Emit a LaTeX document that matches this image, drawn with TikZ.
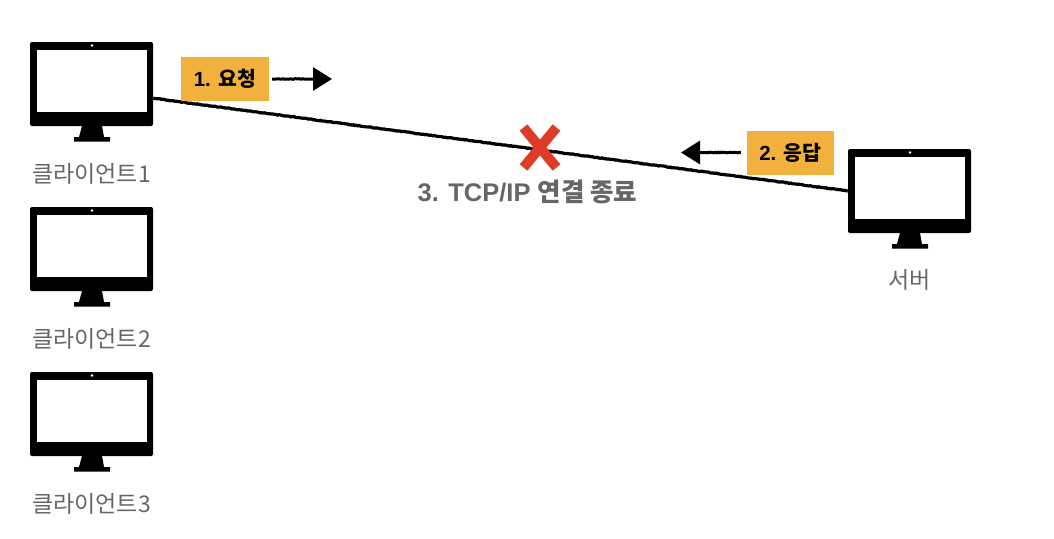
\documentclass[tikz,border=0pt]{standalone}
\usepackage{fontspec}
\setmainfont{Liberation Sans}
\newfontfamily\krfont{Noto Sans CJK KR}
\usetikzlibrary{shapes.misc,arrows.meta,positioning,decorations.pathmorphing}
\definecolor{tagorange}{HTML}{F2B03D}
\definecolor{crossred}{HTML}{DD3C27}
\definecolor{labelgray}{HTML}{666666}

% one monitor: name, centre x, centre y
\newcommand{\monitor}[3]{
  \node[frame] (#1) at (#2,#3) {};
  \node[screen] (#1screen) at (#2+0.5,#3-3) {};
  \fill[black, shift={(#2,#3)}] (-9.5,42) -- (10.5,42) -- (12.5,53) -- (18.5,53) -- (18.5,57.5) -- (-17.5,57.5) -- (-17.5,53) -- (-12.5,53) -- cycle;
  \fill[white] (#2+0.5,#3-38.5) circle (1.3);
}

\begin{document}
\begin{tikzpicture}[
    x=1pt, y=-1pt,
    frame/.style={fill=black, rounded corners=2pt, minimum width=123pt, minimum height=84pt, inner sep=0pt},
    screen/.style={fill=white, minimum width=110pt, minimum height=62pt, inner sep=0pt},
    hostlabel/.style={text=labelgray, font=\fontsize{23}{26}\selectfont\krfont, inner sep=0pt},
    tag/.style={fill=tagorange, minimum height=44pt, inner sep=0pt, font=\fontsize{20.5}{24}\selectfont\bfseries},
    rough/.style={decorate, decoration={random steps, segment length=1.5pt, amplitude=0.35pt, pre length=1pt, post length=2pt}},
    roughshaft/.style={decorate, decoration={random steps, segment length=1.5pt, amplitude=0.35pt, post length=25pt}},
    sketch/.style={black, line width=3.2pt},
    arrow/.style={black, line width=3pt, -{Triangle[length=19pt, width=23pt]}},
    crossmark/.style={draw=crossred, cross out, line width=10pt, minimum width=23pt, minimum height=30pt, inner sep=0pt}
]
\useasboundingbox (0,0) rectangle (1054,538);

% Clients
\monitor{client1}{91.5}{84}
\monitor{client2}{91.5}{249}
\monitor{client3}{91.5}{414}
\node[hostlabel, below=37pt of client1] (name1) {클라이언트1};
\node[hostlabel, below=37pt of client2] (name2) {클라이언트2};
\node[hostlabel, below=37pt of client3] (name3) {클라이언트3};

% Server
\monitor{server}{909.5}{191}
\node[hostlabel, below=36pt of server] (nameserver) {서버};

% Connection
\draw[sketch, rough] (client1.-13.7) -- (server.west);
\node[crossmark] (cross) at (540,147.5) {};
\node[text=labelgray, font=\fontsize{25.5}{30}\selectfont\bfseries, inner sep=0pt] (close) at (527.5,192) {3. TCP/IP {\krfont 연결 종료}};

% Request and response
\node[tag, minimum width=88pt] (request) at (225,79) {1. {\krfont 요청}};
\node[tag, minimum width=87pt] (response) at (790.5,152.5) {2. {\krfont 응답}};
\coordinate (requestend) at (332,79);
\coordinate (responseend) at (681,152.5);
\draw[arrow, roughshaft] ([xshift=3pt]request.east) -- (requestend);
\draw[arrow, roughshaft] ([xshift=-6pt]response.west) -- (responseend);

\end{tikzpicture}
\end{document}
